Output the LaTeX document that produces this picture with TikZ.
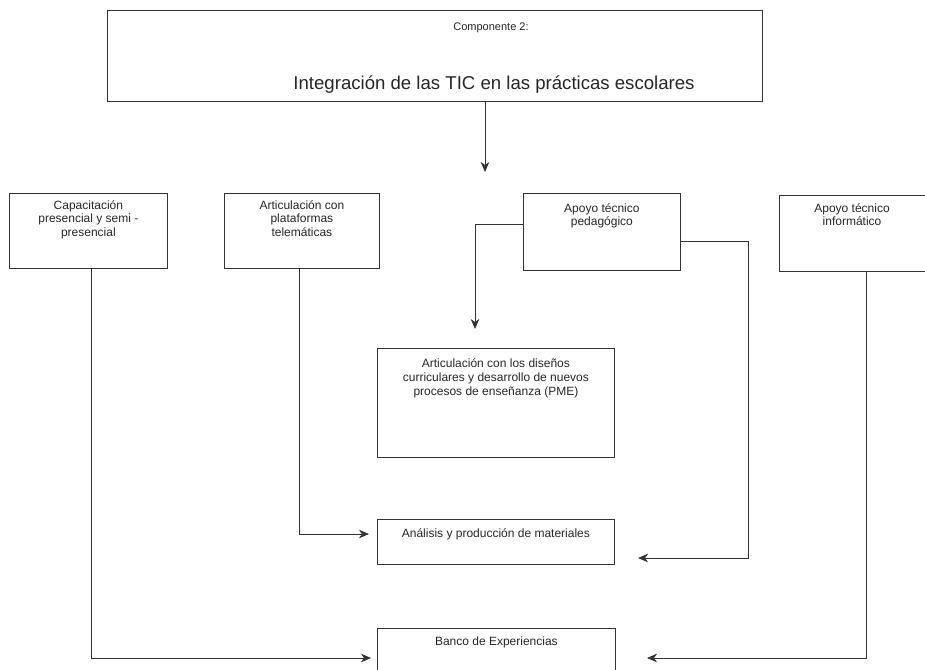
\documentclass[tikz,border=0pt]{standalone}
\usepackage{fontspec}
\setmainfont{Liberation Sans}
\usetikzlibrary{arrows.meta}
\begin{document}
\begin{tikzpicture}[x=1pt,y=-1pt,
  box/.style={draw=black!80, line width=0.8pt, inner sep=0pt, anchor=north west},
  lbl/.style={inner sep=0pt, align=center, text=black!85, anchor=north,
              font=\fontsize{12}{13.8}\selectfont},
  link/.style={draw=black!80, line width=0.8pt},
  arr/.style={link, -{Stealth[length=10pt,width=8.5pt,inset=3pt]}}]
\useasboundingbox (0,0) rectangle (925,669);
\clip (0,0) rectangle (925,669);

% boxes
\node[box, minimum width=655pt, minimum height=91pt] (top) at (107,10) {};
\node[box, minimum width=158pt, minimum height=75pt] (b1) at (9,193) {};
\node[box, minimum width=155pt, minimum height=75pt] (b2) at (224,193) {};
\node[box, minimum width=157pt, minimum height=77pt] (b3) at (523,193) {};
\node[box, minimum width=151pt, minimum height=76pt] (b4) at (779,195) {};
\node[box, minimum width=237pt, minimum height=109pt] (pme) at (377,348) {};
\node[box, minimum width=237pt, minimum height=45pt] (ana) at (377,519) {};
\node[box, minimum width=238pt, minimum height=70pt] (banco) at (377,628) {};

% texts
\node[lbl, font=\fontsize{11}{13}\selectfont, yshift=-13pt] (topa) at (top.north -| 491,0) {Componente 2:};
\node[lbl, font=\fontsize{18.6}{20}\selectfont, anchor=base, yshift=12.5pt] (topb) at (top.south -| 494,0)
  {Integración de las TIC en las prácticas escolares};
\node[lbl, yshift=-7pt] (b1t) at (b1.north) {Capacitación\\presencial y semi -\\presencial};
\node[lbl, yshift=-7pt] (b2t) at (b2.north) {Articulación con\\plataformas\\telemáticas};
\node[lbl, yshift=-10pt] (b3t) at (b3.north) {Apoyo técnico\\pedagógico};
\node[lbl, yshift=-8pt] (b4t) at (b4.north -| 852,0) {Apoyo técnico\\informático};
\node[lbl, yshift=-10.5pt] (pmet) at (pme.north)
  {Articulación con los diseños\\curriculares y desarrollo de nuevos\\procesos de enseñanza (PME)};
\node[lbl, yshift=-9.7pt] (anat) at (ana.north) {Análisis y producción de materiales};
\node[lbl, yshift=-8.7pt] (bancot) at (banco.north) {Banco de Experiencias};

% arrow ends
\coordinate (split) at (485,172);
\coordinate (pmein) at (475,329);
\coordinate (anaL) at (369,534);
\coordinate (anaR) at (638,558);
\coordinate (bancoL) at (371,658);
\coordinate (bancoR) at (647,658);

% connectors
\draw[arr] (top.south -| split) -- (split);
\draw[arr] (b3.west |- 0,224) -| (pmein);
\draw[arr] (b3.east |- 0,241) -| (748,0 |- anaR) -- (anaR);
\draw[arr] (299,0 |- b2.south) |- (anaL);
\draw[arr] (91,0 |- b1.south) |- (bancoL);
\draw[arr] (866,0 |- b4.south) |- (bancoR);
\end{tikzpicture}
\end{document}
